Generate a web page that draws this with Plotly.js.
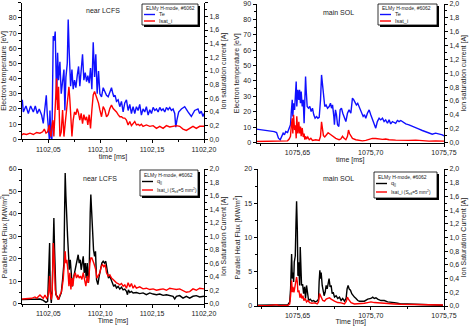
<!DOCTYPE html>
<html>
<head>
<meta charset="utf-8">
<script src="https://cdn.plot.ly/plotly-3.0.1.min.js"></script>
<style>
  html, body { margin: 0; padding: 0; background: #fff; }
  #chart { width: 469px; height: 326px; }
</style>
</head>
<body>
<div id="chart"></div>
<script>
// ---- near LCFS, Te / Isat (top left) ----
const tNearTe = [
  1102.0250, 1102.0260, 1102.0285, 1102.0308, 1102.0330, 1102.0356, 1102.0375, 1102.0394, 1102.0413, 1102.0436,
  1102.0452, 1102.0468, 1102.0481, 1102.0490, 1102.0500, 1102.0510, 1102.0516, 1102.0526, 1102.0535, 1102.0548,
  1102.0558, 1102.0567, 1102.0580, 1102.0590, 1102.0599, 1102.0612, 1102.0625, 1102.0638, 1102.0651, 1102.0660,
  1102.0670, 1102.0683, 1102.0692, 1102.0702, 1102.0715, 1102.0728, 1102.0740, 1102.0753, 1102.0766, 1102.0779,
  1102.0792, 1102.0804, 1102.0817, 1102.0830, 1102.0843, 1102.0856, 1102.0869, 1102.0881, 1102.0894, 1102.0907,
  1102.0920, 1102.0933, 1102.0946, 1102.0958, 1102.0971, 1102.0984, 1102.0997, 1102.1013, 1102.1029, 1102.1045,
  1102.1061, 1102.1077, 1102.1093, 1102.1109, 1102.1119, 1102.1131, 1102.1144, 1102.1157, 1102.1173, 1102.1189,
  1102.1205, 1102.1221, 1102.1237, 1102.1253, 1102.1269, 1102.1285, 1102.1301, 1102.1317, 1102.1333, 1102.1349,
  1102.1365, 1102.1381, 1102.1397, 1102.1413, 1102.1429, 1102.1445, 1102.1462, 1102.1478, 1102.1494, 1102.1510,
  1102.1526, 1102.1542, 1102.1558, 1102.1574, 1102.1590, 1102.1606, 1102.1622, 1102.1638, 1102.1654, 1102.1670,
  1102.1686, 1102.1702, 1102.1718, 1102.1728, 1102.1740, 1102.1756, 1102.1782, 1102.1814, 1102.1846, 1102.1878,
  1102.1910, 1102.1942, 1102.1958, 1102.1974, 1102.1990, 1102.2000
];
const teNear = [
  26, 18, 22, 17, 22, 18, 22, 17, 20, 16,
  10.5, 24, 29, 17, 4, 0, 19, 1, 0, 68,
  65, 71, 26, 57, 39, 51, 30, 37, 46, 19,
  41, 50, 79, 57, 35, 46, 33, 39, 34, 42,
  48, 35, 45, 56, 39, 44, 38, 42, 37, 47,
  33, 64, 41, 56, 30, 45, 30, 28, 34, 31,
  29, 28, 31, 34, 31, 28, 29, 25, 26, 21.5,
  25, 18, 24, 26, 19, 23, 17, 21.5, 17, 21.5,
  19, 23, 16, 20, 18, 21.5, 16, 19.5, 17, 21,
  19, 20, 18, 21, 19, 20, 18, 21, 19.5, 21,
  19, 20, 17, 8, 13, 18, 20, 21.5, 18, 15,
  19, 20, 17, 18.5, 15, 17
];
const tNearIs = [
  1102.0247, 1102.0260, 1102.0292, 1102.0324, 1102.0356, 1102.0388, 1102.0420, 1102.0446, 1102.0462, 1102.0478,
  1102.0494, 1102.0510, 1102.0516, 1102.0526, 1102.0535, 1102.0545, 1102.0554, 1102.0567, 1102.0580, 1102.0590,
  1102.0599, 1102.0612, 1102.0625, 1102.0638, 1102.0651, 1102.0663, 1102.0676, 1102.0689, 1102.0699, 1102.0708,
  1102.0718, 1102.0728, 1102.0740, 1102.0753, 1102.0766, 1102.0779, 1102.0792, 1102.0804, 1102.0817, 1102.0830,
  1102.0843, 1102.0856, 1102.0869, 1102.0881, 1102.0894, 1102.0907, 1102.0920, 1102.0933, 1102.0946, 1102.0958,
  1102.0971, 1102.0984, 1102.0997, 1102.1013, 1102.1029, 1102.1045, 1102.1061, 1102.1077, 1102.1093, 1102.1109,
  1102.1125, 1102.1141, 1102.1157, 1102.1173, 1102.1189, 1102.1205, 1102.1221, 1102.1237, 1102.1253, 1102.1269,
  1102.1285, 1102.1301, 1102.1317, 1102.1333, 1102.1349, 1102.1365, 1102.1381, 1102.1397, 1102.1413, 1102.1445,
  1102.1478, 1102.1510, 1102.1542, 1102.1574, 1102.1606, 1102.1638, 1102.1670, 1102.1702, 1102.1734, 1102.1766,
  1102.1798, 1102.1830, 1102.1862, 1102.1894, 1102.1926, 1102.1958, 1102.2000
];
const isNear = [
  0.063, 0.08, 0.07, 0.09, 0.07, 0.10, 0.09, 0.11, 0.15, 0.09,
  0.11, 0.21, 0.11, 0.04, 0.19, 0.28, 0.04, 0.58, 0.89, 0.43,
  0.77, 0.04, 0.11, 0.43, 0.04, 0.23, 0.43, 0.58, 0.77, 0.58,
  0.33, 0.04, 0.28, 0.40, 0.36, 0.45, 0.38, 0.28, 0.38, 0.23,
  0.36, 0.28, 0.33, 0.21, 0.36, 0.16, 0.43, 0.65, 0.70, 0.65,
  0.60, 0.53, 0.43, 0.33, 0.48, 0.43, 0.33, 0.36, 0.45, 0.50,
  0.45, 0.43, 0.40, 0.36, 0.33, 0.33, 0.31, 0.31, 0.28, 0.21,
  0.26, 0.20, 0.24, 0.26, 0.21, 0.22, 0.20, 0.22, 0.19, 0.21,
  0.19, 0.20, 0.16, 0.19, 0.16, 0.20, 0.18, 0.19, 0.20, 0.19,
  0.15, 0.13, 0.16, 0.19, 0.16, 0.19, 0.19
];

// ---- main SOL, Te / Isat (top right) ----
const tMainTe = [
  1075.6220, 1075.6261, 1075.6307, 1075.6341, 1075.6357, 1075.6370, 1075.6382, 1075.6393, 1075.6402, 1075.6411,
  1075.6420, 1075.6432, 1075.6443, 1075.6452, 1075.6457, 1075.6464, 1075.6468, 1075.6473, 1075.6480, 1075.6486,
  1075.6491, 1075.6495, 1075.6502, 1075.6509, 1075.6514, 1075.6520, 1075.6525, 1075.6532, 1075.6539, 1075.6545,
  1075.6550, 1075.6555, 1075.6559, 1075.6566, 1075.6575, 1075.6584, 1075.6593, 1075.6602, 1075.6611, 1075.6620,
  1075.6630, 1075.6639, 1075.6648, 1075.6657, 1075.6664, 1075.6670, 1075.6677, 1075.6686, 1075.6695, 1075.6705,
  1075.6716, 1075.6725, 1075.6732, 1075.6739, 1075.6748, 1075.6752, 1075.6759, 1075.6766, 1075.6773, 1075.6782,
  1075.6791, 1075.6800, 1075.6809, 1075.6818, 1075.6830, 1075.6841, 1075.6852, 1075.6864, 1075.6875, 1075.6884,
  1075.6893, 1075.6902, 1075.6911, 1075.6920, 1075.6930, 1075.6939, 1075.6948, 1075.6957, 1075.6966, 1075.6977,
  1075.6989, 1075.7000, 1075.7011, 1075.7023, 1075.7034, 1075.7045, 1075.7057, 1075.7068, 1075.7080, 1075.7091,
  1075.7102, 1075.7114, 1075.7125, 1075.7136, 1075.7148, 1075.7159, 1075.7170, 1075.7182, 1075.7193, 1075.7205,
  1075.7216, 1075.7227, 1075.7239, 1075.7261, 1075.7284, 1075.7307, 1075.7330, 1075.7352, 1075.7375, 1075.7398,
  1075.7420, 1075.7443, 1075.7466, 1075.7489, 1075.7500
];
const teMain = [
  8.7, 8.2, 7.8, 7.1, 6.5, 2.8, 1.7, 3.9, 6.1, 5,
  7.1, 6.5, 9.3, 11.5, 19, 27.7, 16.9, 25.5, 21.2, 37.4,
  39.6, 23.4, 34.2, 27.7, 34.2, 25.5, 33.1, 23.4, 27.7, 12.5,
  30.9, 42.8, 34.2, 23.4, 22.3, 23.4, 20.1, 22.3, 18, 15.8,
  16.9, 15.8, 16.4, 27.7, 43.9, 38.5, 27.7, 23.4, 24.4, 22.3,
  23.4, 25.5, 22.3, 24.4, 16.9, 11.5, 21.2, 18, 11.5, 10.4,
  21.2, 22.3, 19, 16.9, 13.6, 19, 21.2, 19, 28.8, 27.7,
  25.5, 24.4, 25.5, 23.4, 21.2, 18, 16.9, 18, 15.8, 19,
  21.2, 18, 14.7, 11.5, 9.3, 13.6, 15.8, 14.7, 15.8, 13.6,
  14.7, 12.5, 14.7, 12.1, 13.6, 13, 12.5, 14.3, 13.6, 14.3,
  13.6, 13, 12.1, 11.5, 10.4, 9.3, 8.7, 7.8, 7.1, 6.1,
  5.4, 6.1, 5.6, 5, 4.3
];
const tMainIs = [
  1075.6220, 1075.6307, 1075.6352, 1075.6398, 1075.6432, 1075.6443, 1075.6452, 1075.6457, 1075.6464, 1075.6468,
  1075.6473, 1075.6480, 1075.6486, 1075.6491, 1075.6495, 1075.6502, 1075.6509, 1075.6514, 1075.6520, 1075.6525,
  1075.6532, 1075.6539, 1075.6545, 1075.6550, 1075.6555, 1075.6561, 1075.6570, 1075.6580, 1075.6591, 1075.6602,
  1075.6625, 1075.6648, 1075.6657, 1075.6664, 1075.6670, 1075.6677, 1075.6686, 1075.6698, 1075.6709, 1075.6716,
  1075.6727, 1075.6739, 1075.6750, 1075.6761, 1075.6773, 1075.6784, 1075.6795, 1075.6807, 1075.6818, 1075.6830,
  1075.6841, 1075.6848, 1075.6855, 1075.6864, 1075.6875, 1075.6898, 1075.6920, 1075.6943, 1075.6966, 1075.6989,
  1075.7011, 1075.7034, 1075.7057, 1075.7080, 1075.7102, 1075.7125, 1075.7170, 1075.7216, 1075.7261, 1075.7307,
  1075.7352, 1075.7398, 1075.7443, 1075.7500
];
const isMain = [
  0.014, 0.014, 0.02, 0.014, 0.024, 0.05, 0.09, 0.23, 0.35, 0.13,
  0.40, 0.18, 0.25, 0.06, 0.38, 0.13, 0.30, 0.13, 0.23, 0.09,
  0.21, 0.08, 0.13, 0.04, 0.09, 0.05, 0.08, 0.04, 0.06, 0.03,
  0.04, 0.03, 0.09, 0.30, 0.16, 0.10, 0.08, 0.11, 0.14, 0.13,
  0.11, 0.10, 0.08, 0.06, 0.05, 0.04, 0.05, 0.09, 0.06, 0.04,
  0.09, 0.18, 0.13, 0.09, 0.06, 0.04, 0.03, 0.024, 0.03, 0.05,
  0.06, 0.058, 0.05, 0.045, 0.05, 0.04, 0.034, 0.03, 0.03, 0.034,
  0.024, 0.02, 0.024, 0.02
];

// ---- near LCFS, q|| / Isat (bottom left) ----
const tNearQ = [
  1102.0247, 1102.0292, 1102.0340, 1102.0388, 1102.0420, 1102.0452, 1102.0478, 1102.0494, 1102.0506, 1102.0513,
  1102.0519, 1102.0529, 1102.0538, 1102.0548, 1102.0554, 1102.0561, 1102.0567, 1102.0574, 1102.0587, 1102.0599,
  1102.0612, 1102.0625, 1102.0638, 1102.0651, 1102.0657, 1102.0663, 1102.0670, 1102.0676, 1102.0686, 1102.0696,
  1102.0702, 1102.0712, 1102.0721, 1102.0731, 1102.0740, 1102.0753, 1102.0766, 1102.0779, 1102.0788, 1102.0798,
  1102.0808, 1102.0817, 1102.0827, 1102.0837, 1102.0846, 1102.0856, 1102.0865, 1102.0875, 1102.0885, 1102.0894,
  1102.0904, 1102.0910, 1102.0917, 1102.0926, 1102.0936, 1102.0946, 1102.0955, 1102.0965, 1102.0978, 1102.0990,
  1102.1003, 1102.1016, 1102.1029, 1102.1042, 1102.1054, 1102.1067, 1102.1080, 1102.1093, 1102.1106, 1102.1119,
  1102.1131, 1102.1144, 1102.1157, 1102.1173, 1102.1189, 1102.1205, 1102.1221, 1102.1237, 1102.1253, 1102.1263,
  1102.1272, 1102.1285, 1102.1301, 1102.1317, 1102.1349, 1102.1381, 1102.1413, 1102.1445, 1102.1478, 1102.1510,
  1102.1542, 1102.1574, 1102.1606, 1102.1638, 1102.1670, 1102.1702, 1102.1718, 1102.1734, 1102.1766, 1102.1798,
  1102.1830, 1102.1862, 1102.1894, 1102.1926, 1102.1958, 1102.2000
];
const qNear = [
  1.8, 1.8, 2.1, 1.8, 2.1, 1.5, 0.6, 1.0, 13.7, 27,
  6.2, 0.3, 6.2, 35.9, 38.2, 24, 10.7, 4, 3.3, 1.8,
  3.3, 4.8, 10.7, 18.1, 40.4, 58.2, 47.8, 38.2, 30, 21.1,
  15.1, 19.6, 12.2, 7.7, 10.7, 13.7, 18.1, 20.3, 21.8, 18.1,
  19.6, 15.1, 18.1, 21.1, 13.7, 18.1, 11.4, 18.1, 9.2, 13.7,
  40.4, 48.6, 41.9, 28.5, 24, 21.1, 23.3, 10.7, 8.5, 12.2,
  15.1, 18.1, 18.9, 18.1, 18.9, 13.7, 11.4, 12.2, 10.7, 9.2,
  7.7, 8.5, 7.0, 7.7, 6.5, 7.4, 6.2, 6.5, 5.5, 4.0,
  6.2, 5.0, 5.5, 4.8, 5.0, 4.5, 4.8, 4.0, 4.8, 4.3,
  4.0, 4.3, 3.7, 4.0, 3.6, 3.3, 2.1, 3.3, 3.6, 2.5,
  3.3, 2.5, 3.3, 3.6, 3.0, 3.3
];
const tNearIs2 = [
  1102.0247, 1102.0292, 1102.0340, 1102.0372, 1102.0388, 1102.0420, 1102.0436, 1102.0452, 1102.0468, 1102.0484,
  1102.0497, 1102.0506, 1102.0513, 1102.0519, 1102.0529, 1102.0538, 1102.0548, 1102.0554, 1102.0561, 1102.0567,
  1102.0580, 1102.0596, 1102.0612, 1102.0628, 1102.0644, 1102.0657, 1102.0663, 1102.0670, 1102.0679, 1102.0689,
  1102.0699, 1102.0708, 1102.0718, 1102.0728, 1102.0737, 1102.0747, 1102.0760, 1102.0772, 1102.0785, 1102.0798,
  1102.0811, 1102.0824, 1102.0837, 1102.0849, 1102.0862, 1102.0875, 1102.0888, 1102.0901, 1102.0910, 1102.0920,
  1102.0929, 1102.0939, 1102.0949, 1102.0958, 1102.0968, 1102.0981, 1102.0997, 1102.1010, 1102.1022, 1102.1035,
  1102.1048, 1102.1061, 1102.1077, 1102.1093, 1102.1109, 1102.1125, 1102.1141, 1102.1157, 1102.1173, 1102.1189,
  1102.1205, 1102.1221, 1102.1237, 1102.1253, 1102.1269, 1102.1285, 1102.1301, 1102.1317, 1102.1333, 1102.1349,
  1102.1381, 1102.1413, 1102.1445, 1102.1478, 1102.1510, 1102.1542, 1102.1574, 1102.1606, 1102.1638, 1102.1670,
  1102.1702, 1102.1734, 1102.1766, 1102.1798, 1102.1830, 1102.1862, 1102.1894, 1102.1926, 1102.1958, 1102.2000
];
const isNear2 = [
  0.07, 0.07, 0.08, 0.10, 0.08, 0.13, 0.11, 0.08, 0.13, 0.08,
  0.11, 0.21, 0.41, 0.16, 0.06, 0.16, 0.90, 0.80, 0.50, 0.21,
  0.11, 0.06, 0.13, 0.18, 0.36, 0.65, 0.78, 0.60, 0.65, 0.50,
  0.26, 0.46, 0.21, 0.38, 0.26, 0.41, 0.46, 0.38, 0.43, 0.38,
  0.41, 0.36, 0.46, 0.36, 0.26, 0.41, 0.31, 0.60, 0.68, 0.68,
  0.65, 0.60, 0.55, 0.50, 0.38, 0.41, 0.46, 0.55, 0.58, 0.55,
  0.58, 0.46, 0.41, 0.43, 0.38, 0.36, 0.33, 0.31, 0.30, 0.28,
  0.30, 0.26, 0.28, 0.23, 0.31, 0.25, 0.30, 0.23, 0.27, 0.23,
  0.25, 0.22, 0.23, 0.21, 0.22, 0.20, 0.21, 0.22, 0.20, 0.23,
  0.22, 0.21, 0.22, 0.19, 0.17, 0.18, 0.22, 0.20, 0.23, 0.22
];

// ---- main SOL, q|| / Isat (bottom right) ----
const tMainQ = [
  1075.6226, 1075.6298, 1075.6344, 1075.6366, 1075.6412, 1075.6434, 1075.6446, 1075.6452, 1075.6459, 1075.6464,
  1075.6468, 1075.6473, 1075.6477, 1075.6484, 1075.6489, 1075.6493, 1075.6498, 1075.6502, 1075.6507, 1075.6514,
  1075.6518, 1075.6523, 1075.6527, 1075.6534, 1075.6541, 1075.6548, 1075.6554, 1075.6561, 1075.6568, 1075.6575,
  1075.6586, 1075.6598, 1075.6609, 1075.6620, 1075.6632, 1075.6643, 1075.6647, 1075.6652, 1075.6656, 1075.6661,
  1075.6668, 1075.6675, 1075.6681, 1075.6688, 1075.6695, 1075.6702, 1075.6709, 1075.6715, 1075.6722, 1075.6729,
  1075.6736, 1075.6743, 1075.6752, 1075.6763, 1075.6774, 1075.6786, 1075.6797, 1075.6808, 1075.6820, 1075.6831,
  1075.6838, 1075.6845, 1075.6852, 1075.6861, 1075.6870, 1075.6879, 1075.6888, 1075.6899, 1075.6911, 1075.6922,
  1075.6933, 1075.6956, 1075.6979, 1075.7001, 1075.7013, 1075.7024, 1075.7035, 1075.7047, 1075.7069, 1075.7092,
  1075.7115, 1075.7137, 1075.7160, 1075.7183, 1075.7205, 1075.7251, 1075.7296, 1075.7341, 1075.7387, 1075.7432,
  1075.7493
];
const qMain = [
  0.1, 0.1, 0.2, 0.1, 0.15, 0.2, 0.6, 2.5, 7.6, 4.0,
  4.9, 3.5, 6.4, 7.3, 12.2, 15.3, 11.2, 4.4, 6.4, 3.0,
  8.6, 5.4, 3.0, 3.2, 1.8, 2.8, 1.1, 3.0, 1.3, 0.8,
  1.0, 0.7, 0.8, 0.6, 0.7, 1.0, 3.5, 5.2, 4.0, 4.9,
  3.0, 1.8, 1.5, 2.0, 3.0, 2.5, 3.2, 4.0, 2.8, 3.0,
  1.8, 2.0, 1.3, 1.5, 1.1, 1.3, 0.8, 1.1, 0.7, 1.1,
  2.5, 3.0, 2.5, 2.3, 1.8, 1.5, 1.3, 1.1, 0.8, 0.7,
  0.7, 0.7, 1.0, 1.1, 1.3, 1.1, 1.2, 1.0, 0.8, 0.8,
  0.6, 0.6, 0.5, 0.4, 0.3, 0.3, 0.25, 0.2, 0.15, 0.15,
  0.1
];
const tMainIs2 = [
  1075.6226, 1075.6298, 1075.6355, 1075.6378, 1075.6434, 1075.6446, 1075.6452, 1075.6459, 1075.6464, 1075.6468,
  1075.6475, 1075.6482, 1075.6489, 1075.6493, 1075.6498, 1075.6502, 1075.6509, 1075.6516, 1075.6523, 1075.6529,
  1075.6536, 1075.6543, 1075.6552, 1075.6561, 1075.6570, 1075.6582, 1075.6598, 1075.6616, 1075.6634, 1075.6643,
  1075.6650, 1075.6656, 1075.6663, 1075.6672, 1075.6684, 1075.6695, 1075.6706, 1075.6718, 1075.6729, 1075.6740,
  1075.6752, 1075.6763, 1075.6774, 1075.6797, 1075.6820, 1075.6833, 1075.6840, 1075.6847, 1075.6856, 1075.6865,
  1075.6888, 1075.6911, 1075.6933, 1075.6956, 1075.6979, 1075.7001, 1075.7024, 1075.7047, 1075.7069, 1075.7115,
  1075.7160, 1075.7205, 1075.7251, 1075.7296, 1075.7341, 1075.7387, 1075.7432, 1075.7493
];
const isMain2 = [
  0.005, 0.005, 0.02, 0.005, 0.01, 0.03, 0.15, 0.37, 0.20, 0.28,
  0.20, 0.30, 0.40, 0.42, 0.35, 0.20, 0.23, 0.12, 0.18, 0.11,
  0.15, 0.08, 0.11, 0.06, 0.08, 0.05, 0.04, 0.045, 0.03, 0.06,
  0.18, 0.15, 0.12, 0.08, 0.07, 0.10, 0.11, 0.12, 0.10, 0.08,
  0.07, 0.06, 0.05, 0.045, 0.03, 0.07, 0.13, 0.10, 0.07, 0.05,
  0.03, 0.03, 0.03, 0.04, 0.05, 0.06, 0.05, 0.045, 0.04, 0.03,
  0.03, 0.025, 0.025, 0.02, 0.02, 0.015, 0.015, 0.015
];

// ---- layout helpers (pixel -> paper) ----
const W = 469, H = 326;
const px = (x) => x / W;
const py = (y) => 1 - y / H;
const FONT = "Liberation Sans, Arial, sans-serif";
const INK = "#222";

function xAxis(domain, anchor, range, tick0, title) {
  return {
    domain: domain, anchor: anchor, range: range,
    tick0: tick0, dtick: 0.05, tickformat: ".2f",
    showline: true, linecolor: "#000", linewidth: 1,
    ticks: "outside", ticklen: 3, tickcolor: "#000",
    minor: { ticks: "outside", ticklen: 2, dtick: 0.025, tick0: tick0, tickcolor: "#000" },
    showgrid: false, zeroline: false,
    tickfont: { size: 7, color: INK, family: FONT },
    title: { text: title, font: { size: 7, color: INK, family: FONT }, standoff: 2 },
  };
}

function yLeft(domain, anchor, range, dtick, title) {
  return {
    domain: domain, anchor: anchor, range: range, dtick: dtick,
    showline: true, linecolor: "#000", linewidth: 1,
    ticks: "outside", ticklen: 3, tickcolor: "#000",
    minor: { ticks: "outside", ticklen: 2, dtick: dtick / 2, tickcolor: "#000" },
    showgrid: false, zeroline: false,
    tickfont: { size: 7, color: INK, family: FONT },
    title: { text: title, font: { size: 7, color: INK, family: FONT }, standoff: 2 },
  };
}

function yRight(overlay, anchor, title) {
  return {
    overlaying: overlay, anchor: anchor, side: "right",
    range: [0, 2], dtick: 0.2, tickformat: ".1f",
    showline: true, linecolor: "#000", linewidth: 1,
    ticks: "outside", ticklen: 3, tickcolor: "#000",
    minor: { ticks: "outside", ticklen: 2, dtick: 0.1, tickcolor: "#000" },
    showgrid: false, zeroline: false,
    tickfont: { size: 7, color: INK, family: FONT },
    title: { text: title, font: { size: 7, color: INK, family: FONT }, standoff: 2 },
  };
}

function line(x, y, xa, ya, color) {
  return { x: x, y: y, xaxis: xa, yaxis: ya, type: "scatter", mode: "lines",
    line: { color: color, width: 1.4 }, showlegend: false, hoverinfo: "skip" };
}

const BLUE = "#1010ff", RED = "#ff0000", BLACK = "#000000";

const traces = [
  line(tNearTe, teNear, "x", "y", BLUE),
  line(tNearIs, isNear, "x", "y2", RED),
  line(tMainTe, teMain, "x2", "y3", BLUE),
  line(tMainIs, isMain, "x2", "y4", RED),
  line(tNearQ, qNear, "x3", "y5", BLACK),
  line(tNearIs2, isNear2, "x3", "y6", RED),
  line(tMainQ, qMain, "x4", "y7", BLACK),
  line(tMainIs2, isMain2, "x4", "y8", RED),
];

const shapes = [];
const annotations = [];

function note(x, y, text, size, anchor) {
  annotations.push({ xref: "paper", yref: "paper", x: px(x), y: py(y), text: text,
    showarrow: false, xanchor: anchor || "center", yanchor: "middle",
    font: { size: size, color: INK, family: FONT } });
}

// hand-drawn legend box with drop shadow, like the Origin original
function legendBox(x0, y0, x1, y1, entries) {
  shapes.push({ type: "rect", xref: "paper", yref: "paper",
    x0: px(x0 + 2), x1: px(x1 + 2), y0: py(y0 + 2), y1: py(y1 + 2),
    fillcolor: "#000", line: { width: 0 } });
  shapes.push({ type: "rect", xref: "paper", yref: "paper",
    x0: px(x0), x1: px(x1), y0: py(y0), y1: py(y1),
    fillcolor: "#fff", line: { color: "#000", width: 0.8 } });
  note(x0 + 1.5, y0 + 4.5, "ELMy H-mode, #6062", 5, "left");
  entries.forEach((e) => {
    shapes.push({ type: "line", xref: "paper", yref: "paper",
      x0: px(x0 + 2), x1: px(x0 + 13), y0: py(e.y), y1: py(e.y),
      line: { color: e.color, width: 1.4 } });
    note(x0 + 15, e.y, e.text, e.size || 5.5, "left");
  });
}

legendBox(142, 4, 198, 25, [
  { y: 14.5, color: BLUE, text: "Te" },
  { y: 21, color: RED, text: "Isat_i" },
]);
legendBox(378, 4, 437, 25, [
  { y: 14.5, color: BLUE, text: "Te" },
  { y: 21, color: RED, text: "Isat_i" },
]);
legendBox(140, 170, 198, 196, [
  { y: 181.5, color: BLACK, text: "q<sub>||</sub>" },
  { y: 190, color: RED, text: "Isat_i (S<sub>eff</sub>=5 mm<sup>2</sup>)", size: 4.8 },
]);
legendBox(374, 172, 437, 198, [
  { y: 183.5, color: BLACK, text: "q<sub>||</sub>" },
  { y: 192, color: RED, text: "Isat_i (S<sub>eff</sub>=5 mm<sup>2</sup>)", size: 4.8 },
]);

note(103, 10, "near LCFS", 7);
note(338, 13, "main SOL", 7);
note(100, 178, "near LCFS", 7);
note(338, 178, "main SOL", 7);

const layout = {
  width: W, height: H,
  margin: { l: 0, r: 0, t: 0, b: 0 },
  paper_bgcolor: "#fff", plot_bgcolor: "rgba(0,0,0,0)",
  separators: ", ",
  showlegend: false,
  font: { family: FONT, size: 7, color: INK },

  xaxis: xAxis([px(22), px(204)], "y", [1102.0247, 1102.2], 1102.05, "time [ms]"),
  yaxis: yLeft([py(139.3), py(2.7)], "x", [0, 90], 10, "Electron temperature [eV]"),
  yaxis2: yRight("y", "x", "Ion saturation current [A]"),

  xaxis2: xAxis([px(256.5), px(444)], "y3", [1075.622, 1075.75], 1075.65, "time [ms]"),
  yaxis3: yLeft([py(142.5), py(4)], "x2", [0, 90], 10, "Electron temperature [eV]"),
  yaxis4: yRight("y3", "x2", "Ion saturation current [A]"),

  xaxis3: xAxis([px(22), px(204)], "y5", [1102.0247, 1102.2], 1102.05, "Time [ms]"),
  yaxis5: yLeft([py(303.7), py(169)], "x3", [0, 60], 10, "Parallel Heat Flux [MW/m<sup>2</sup>]"),
  yaxis6: yRight("y5", "x3", "Ion Saturation Current [A]"),

  xaxis4: xAxis([px(257.5), px(444)], "y7", [1075.6226, 1075.75], 1075.65, "Time [ms]"),
  yaxis7: yLeft([py(306), py(169)], "x4", [0, 20], 5, "Parallel Heat Flux [MW/m<sup>2</sup>]"),
  yaxis8: yRight("y7", "x4", "Ion Saturation Current [A]"),

  shapes: shapes,
  annotations: annotations,
};

Plotly.newPlot("chart", traces, layout, { displayModeBar: false, staticPlot: true });
</script>
</body>
</html>
